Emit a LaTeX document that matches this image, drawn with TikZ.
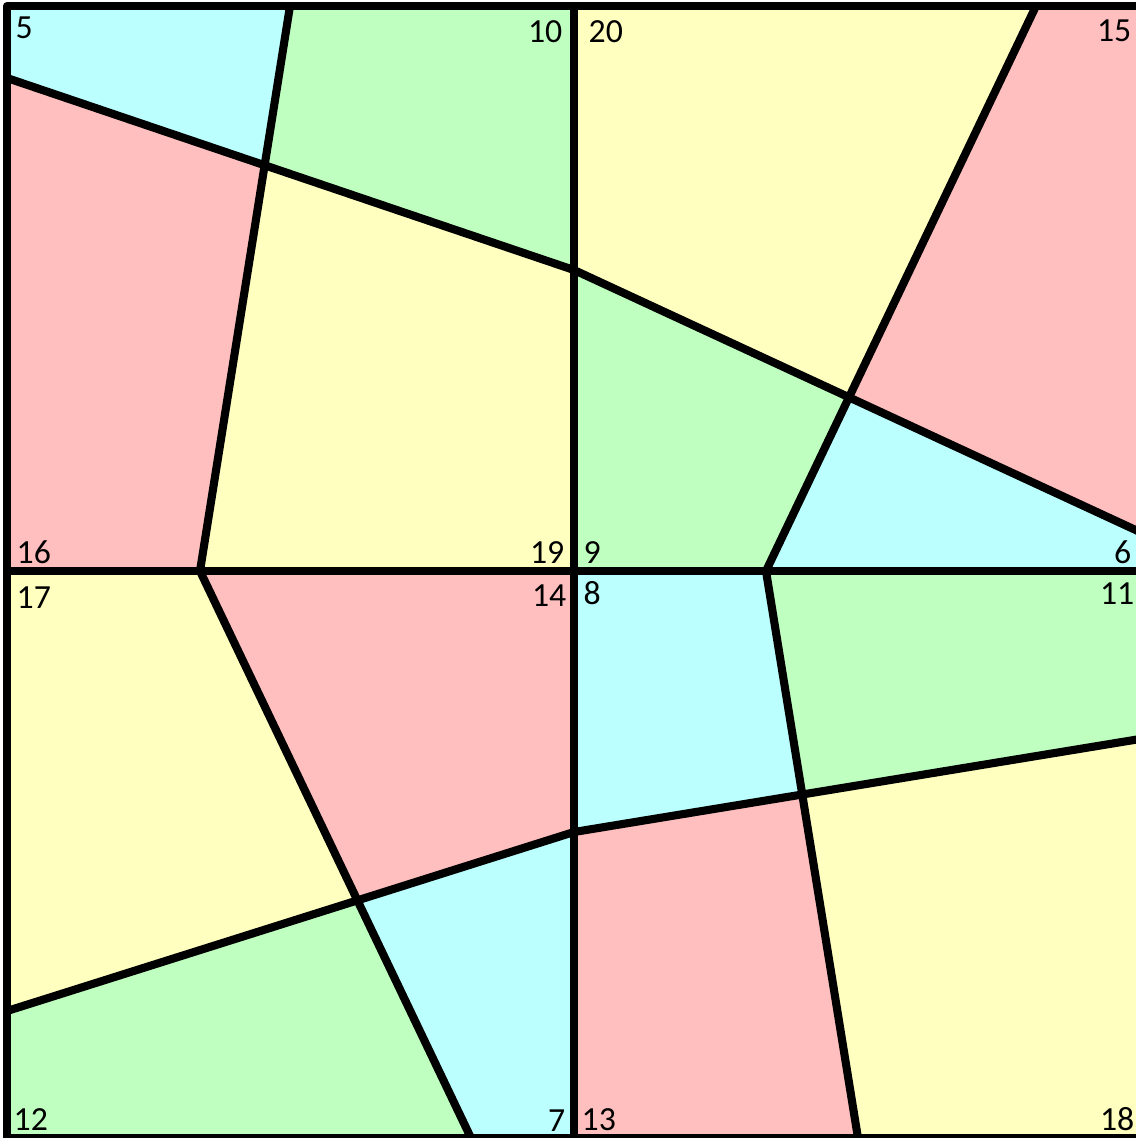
\documentclass[tikz,border=0pt]{standalone}
\usepackage{fontspec}
\setmainfont{Carlito}
\definecolor{tcyan}{RGB}{187,255,255}
\definecolor{tgreen}{RGB}{191,255,191}
\definecolor{tpink}{RGB}{255,191,191}
\definecolor{tyellow}{RGB}{255,255,191}

\begin{document}
\begin{tikzpicture}[
  x=0.01cm, y=-0.01cm,
  edge/.style={draw=black, line width=2.3pt, line join=round},
  num/.style={inner sep=0pt, font=\fontsize{9.6}{11}\selectfont},
  numl/.style={num, anchor=base west},
  numr/.style={num, anchor=base east},
]
\useasboundingbox (0,0) rectangle (1136,1138);

% ---- frame ----
\coordinate (tl) at (7,6);
\coordinate (tm) at (574,6);
\coordinate (tr) at (1140,6);
\coordinate (ml) at (7,571);
\coordinate (mc) at (574,571);
\coordinate (mr) at (1140,571);
\coordinate (bl) at (7,1138);
\coordinate (bm) at (574,1138);
\coordinate (br) at (1140,1138);

% ---- cut points ----
\coordinate (q1-n) at (290,6);
\coordinate (q1-w) at (7,78);
\coordinate (q1-e) at (574,270);
\coordinate (q1-s) at (200,571);
\coordinate (q2-n) at (1036,6);
\coordinate (q2-e) at (1140,532);
\coordinate (q2-s) at (766,571);
\coordinate (q3-w) at (7,1011);
\coordinate (q3-e) at (574,832);
\coordinate (q3-s) at (471,1138);
\coordinate (q4-e) at (1140,739);
\coordinate (q4-s) at (858,1138);

\coordinate (q1-c) at (intersection of q1-n--q1-s and q1-w--q1-e);
\coordinate (q2-c) at (intersection of q2-n--q2-s and q1-e--q2-e);
\coordinate (q3-c) at (intersection of q1-s--q3-s and q3-w--q3-e);
\coordinate (q4-c) at (intersection of q2-s--q4-s and q3-e--q4-e);

% ---- tiles ----
\fill[tcyan]   (tl) -- (q1-n) -- (q1-c) -- (q1-w) -- cycle;
\fill[tgreen]  (q1-n) -- (tm) -- (q1-e) -- (q1-c) -- cycle;
\fill[tpink]   (q1-w) -- (q1-c) -- (q1-s) -- (ml) -- cycle;
\fill[tyellow] (q1-c) -- (q1-e) -- (mc) -- (q1-s) -- cycle;

\fill[tyellow] (tm) -- (q2-n) -- (q2-c) -- (q1-e) -- cycle;
\fill[tpink]   (q2-n) -- (tr) -- (q2-e) -- (q2-c) -- cycle;
\fill[tgreen]  (q1-e) -- (q2-c) -- (q2-s) -- (mc) -- cycle;
\fill[tcyan]   (q2-c) -- (q2-e) -- (mr) -- (q2-s) -- cycle;

\fill[tyellow] (ml) -- (q1-s) -- (q3-c) -- (q3-w) -- cycle;
\fill[tpink]   (q1-s) -- (mc) -- (q3-e) -- (q3-c) -- cycle;
\fill[tgreen]  (q3-w) -- (q3-c) -- (q3-s) -- (bl) -- cycle;
\fill[tcyan]   (q3-c) -- (q3-e) -- (bm) -- (q3-s) -- cycle;

\fill[tcyan]   (mc) -- (q2-s) -- (q4-c) -- (q3-e) -- cycle;
\fill[tgreen]  (q2-s) -- (mr) -- (q4-e) -- (q4-c) -- cycle;
\fill[tpink]   (q3-e) -- (q4-c) -- (q4-s) -- (bm) -- cycle;
\fill[tyellow] (q4-c) -- (q4-e) -- (br) -- (q4-s) -- cycle;

% ---- edges ----
\draw[edge] (tl) rectangle (br);
\draw[edge] (tm) -- (bm);
\draw[edge] (ml) -- (mr);
\draw[edge] (q1-n) -- (q1-s);
\draw[edge] (q1-w) -- (q1-e);
\draw[edge] (q2-n) -- (q2-s);
\draw[edge] (q1-e) -- (q2-e);
\draw[edge] (q1-s) -- (q3-s);
\draw[edge] (q3-w) -- (q3-e);
\draw[edge] (q2-s) -- (q4-s);
\draw[edge] (q3-e) -- (q4-e);

% ---- corner numbers ----
\node[numl] (n5)  at (15,38)    {5};
\node[numr] (n10) at (563,42)   {10};
\node[numl] (n20) at (588,42)   {20};
\node[numr] (n15) at (1132,41)  {15};
\node[numl] (n16) at (16,563)   {16};
\node[numr] (n19) at (565,563)  {19};
\node[numl] (n9)  at (583,563)  {9};
\node[numr] (n6)  at (1132,563) {6};
\node[numl] (n17) at (16,608)   {17};
\node[numr] (n14) at (567,606)  {14};
\node[numl] (n8)  at (583,604)  {8};
\node[numr] (n11) at (1135,604) {11};
\node[numl] (n12) at (13,1130)  {12};
\node[numr] (n7)  at (566,1131) {7};
\node[numl] (n13) at (581,1130) {13};
\node[numr] (n18) at (1135,1130) {18};

\end{tikzpicture}
\end{document}
